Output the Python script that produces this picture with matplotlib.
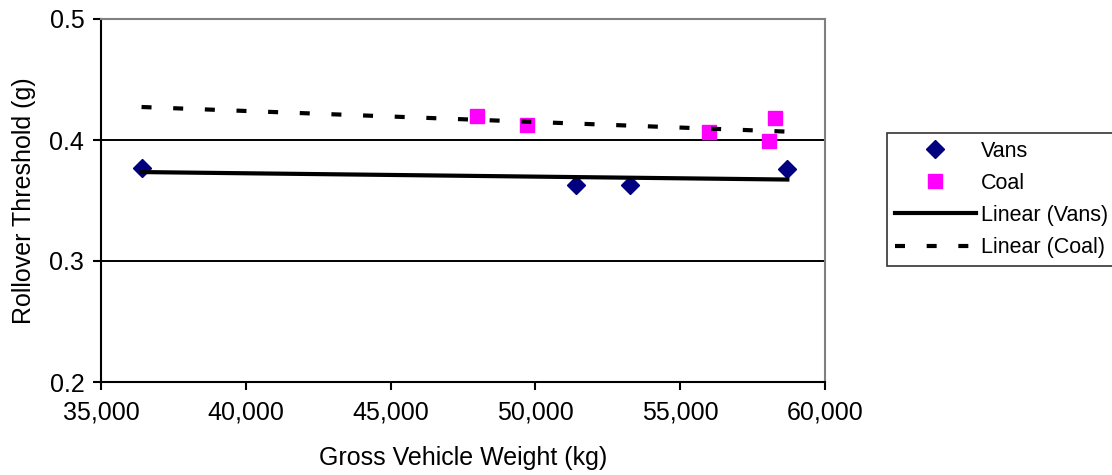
import matplotlib
matplotlib.use("Agg")
import matplotlib.pyplot as plt
import numpy as np
from matplotlib.ticker import FuncFormatter

plt.rcParams["font.family"] = ["Liberation Sans", "DejaVu Sans"]

# data
vans_gvw = [36400, 51400, 53250, 58700]
vans_rt = [0.377, 0.363, 0.363, 0.376]
coal_gvw = [48000, 49700, 55980, 58060, 58270]
coal_rt = [0.420, 0.412, 0.407, 0.399, 0.418]

x_ticks = [35000, 40000, 45000, 50000, 55000, 60000]
y_ticks = [0.2, 0.3, 0.4, 0.5]

fig = plt.figure(figsize=(11.12, 4.75), dpi=100)
ax = fig.add_axes([101 / 1112, 1 - 382 / 475, (825 - 101) / 1112, (382 - 19) / 475])

# linear trendlines over full x range of the data
xr = np.array([min(vans_gvw + coal_gvw), max(vans_gvw + coal_gvw)])
pv = np.polyfit(vans_gvw, vans_rt, 1)
pc = np.polyfit(coal_gvw, coal_rt, 1)

for y in [0.3, 0.4]:
    ax.axhline(y, color="black", lw=1.4, zorder=1)

ax.plot(vans_gvw, vans_rt, "D", color="#000080", ms=9, ls="none", label="Vans", zorder=3)
ax.plot(coal_gvw, coal_rt, "s", color="#FF00FF", ms=10, ls="none", label="Coal", zorder=3)
ax.plot(xr, np.polyval(pv, xr), color="black", lw=3, label="Linear (Vans)", zorder=4)
ax.plot(xr, np.polyval(pc, xr), color="black", lw=3, dashes=(2.4, 5.2),
        label="Linear (Coal)", zorder=4)

ax.set_xlim(35000, 60000)
ax.set_ylim(0.2, 0.5)
ax.set_xticks(x_ticks)
ax.set_yticks(y_ticks)
ax.xaxis.set_major_formatter(FuncFormatter(lambda v, p: f"{v:,.0f}"))
ax.yaxis.set_major_formatter(FuncFormatter(lambda v, p: f"{v:.1f}"))
ax.tick_params(direction="out", length=6, width=1.5, labelsize=18, colors="black")
ax.tick_params(axis="x", pad=7)
ax.tick_params(axis="y", pad=6)

ax.spines["left"].set_linewidth(1.5)
ax.spines["bottom"].set_linewidth(1.5)
ax.spines["top"].set_color("#808080")
ax.spines["right"].set_color("#808080")
ax.spines["top"].set_linewidth(1.5)
ax.spines["right"].set_linewidth(1.5)

ax.set_xlabel("Gross Vehicle Weight (kg)", fontsize=18, labelpad=16)
ax.set_ylabel("Rollover Threshold (g)", fontsize=18, labelpad=10)

leg = fig.legend(loc="upper left", bbox_to_anchor=(887 / 1112, 1 - 133 / 475),
                 fontsize=15.5, frameon=True, fancybox=False, handlelength=3.8,
                 handletextpad=0.2, labelspacing=0.52, borderpad=0.35,
                 borderaxespad=0, numpoints=1)
leg.get_frame().set_edgecolor("black")
leg.get_frame().set_linewidth(1.2)

fig.savefig("out.png", dpi=100)
